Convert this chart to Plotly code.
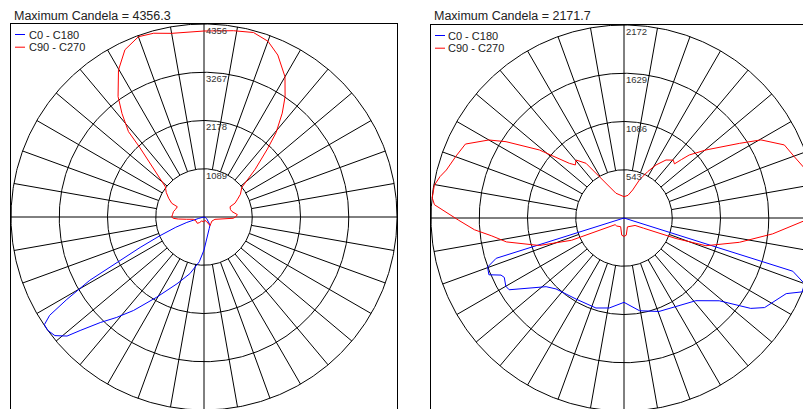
import numpy as np
import plotly.graph_objects as go

# browser page has an 8px body margin; the figure is placed at (8, 8)
PAGE_OFF = 8
W, H = 811 - PAGE_OFF, 409 - PAGE_OFF

# ---------------- data ----------------
titles = ["Maximum Candela = 4356.3", "Maximum Candela = 2171.7"]
series_names = ["C0 - C180", "C90 - C270"]
series_colors = ["#0000ff", "#ff0000"]

rings_1 = [1089, 2178, 3267, 4356]
rings_2 = [543, 1086, 1629, 2172]

# Chart 1  (angles in degrees from nadir, candela)
c1_c0_ang = [0, 5, 13, 25, 37, 42, 50, 60, 75, 80, 90]
c1_c0_cd = [745, 564, 418, 282, 226, 144, 102, 68, 23, 0, 0]

c1_c180_ang = [0, 6, 14, 22, 30.5, 37, 41, 44.5, 47.5, 49, 51.5, 54, 56, 57.5, 59, 61,
               62.5, 64.5, 67, 70, 72.5, 75, 80, 90]
c1_c180_cd = [745, 1016, 1318, 1625, 2099, 2641, 3002, 3340, 3792, 4096, 4300, 4356, 4345,
              4130, 3611, 2948, 2221, 1598, 1083, 677, 406, 135, 23, 0]

c1_c90_ang = [0, 15, 30, 35, 48, 63, 78, 84, 87.5, 90, 94, 101, 106, 111.5, 114, 118, 122,
              128, 133, 137, 139.5, 143, 146, 150, 155.5, 160, 165, 171, 180]
c1_c90_cd = [106, 77, 122, 237, 212, 201, 253, 438, 661, 711, 756, 643, 620, 632, 765, 858,
             970, 1083, 1580, 2099, 2505, 2934, 3273, 3656, 4017, 4221, 4311, 4257, 4198]

c1_c270_ang = [0, 8, 30, 39.5, 47, 63, 78, 82.5, 85.5, 87.5, 90, 95, 100, 105, 111, 113, 118,
               123, 128, 134, 137.3, 138.5, 141.6, 144.5, 149.8, 154.7, 160, 164.7, 170, 180]
c1_c270_cd = [106, 106, 104, 167, 208, 201, 246, 395, 582, 693, 729, 711, 700, 666, 645, 790,
              903, 1016, 1106, 1625, 2144, 2573, 2979, 3340, 3837, 4175, 4330, 4300, 4209, 4198]

# Chart 2
c2_c0_ang = [0, 9.5, 20.5, 28.5, 41, 49, 54.5, 57.5, 65, 67.5, 70, 72.5, 75, 90]
c2_c0_cd = [949, 1058, 1123, 1145, 1233, 1420, 1752, 1876, 2014, 2171.7, 2161, 1992, 0, 0]

c2_c180_ang = [0, 9.3, 17.3, 30.6, 43.8, 48.6, 58, 60, 63.6, 65.1, 67.2, 70.2, 72.5, 75, 90]
c2_c180_cd = [949, 1026, 1061, 1060, 1106, 1169, 1524, 1536, 1504, 1526, 1649, 1632, 1508, 0, 0]

c2_c90_ang = [0, 7.5, 21, 44, 56, 62.5, 68.5, 71.3, 78.1, 83.9, 90, 94, 98, 102.5, 104.8,
              109.8, 114.5, 119.7, 122.9, 129.7, 134, 135.5, 137, 139.6, 144.1, 148.9, 153,
              158, 162.8, 170, 180]
c2_c90_cd = [208, 195, 107, 125, 150, 248, 630, 973, 1327, 1682, 2104, 2161, 2165, 2155, 2118,
             2037, 1983, 1774, 1546, 1199, 1021, 922, 833, 855, 806, 697, 585, 461, 330, 259, 240]

c2_c270_ang = [0, 7.5, 21, 42, 53, 61, 67, 72, 78.5, 82.3, 85.5, 89.3, 92, 94, 96, 99.8,
               102.7, 105.1, 110.3, 115, 120, 122.9, 128.8, 135, 137.5, 140.4, 145.2, 148,
               152.6, 162, 180]
c2_c270_cd = [208, 195, 105, 122, 125, 248, 641, 1002, 1350, 1502, 1688, 1865, 2016, 2138,
              2170, 2166, 2122, 2071, 2014, 1969, 1756, 1581, 1222, 870, 810, 847, 750, 593,
              439, 293, 240]

# ---------------- layout geometry (page pixels) ----------------
R_PX = 193
panels = [
    dict(left=11, top=24, right=397, rings=rings_1, title=titles[0],
         blue=(c1_c0_ang, c1_c0_cd, c1_c180_ang, c1_c180_cd),
         red=(c1_c90_ang, c1_c90_cd, c1_c270_ang, c1_c270_cd)),
    dict(left=431, top=25, right=811, rings=rings_2, title=titles[1],
         blue=(c2_c0_ang, c2_c0_cd, c2_c180_ang, c2_c180_cd),
         red=(c2_c90_ang, c2_c90_cd, c2_c270_ang, c2_c270_cd)),
]


def px_x(px):
    return (px - PAGE_OFF) / W


def px_y(py):
    return 1 - (py - PAGE_OFF) / H


def curve(r_ang, r_cd, l_ang, l_cd):
    ra = np.radians(np.array(r_ang, float))
    rc = np.array(r_cd, float)
    la = np.radians(np.array(l_ang, float))[::-1]
    lc = np.array(l_cd, float)[::-1]
    x = np.concatenate([rc * np.sin(ra), -lc * np.sin(la)])
    y = np.concatenate([-rc * np.cos(ra), -lc * np.cos(la)])
    return x, y


FONT = "Liberation Sans, Arial, sans-serif"
fig = go.Figure()
annotations = []
shapes = []
common = dict(showgrid=False, zeroline=False, showticklabels=False, ticks="",
              fixedrange=True, linecolor="#000000", linewidth=1)

for i, p in enumerate(panels):
    xa = "x" if i == 0 else "x2"
    ya = "y" if i == 0 else "y2"
    R = p["rings"][-1]
    k = R / R_PX  # candela per pixel

    # rings
    t = np.linspace(0, 2 * np.pi, 721)
    gx, gy = [], []
    for rv in p["rings"]:
        gx += list(rv * np.cos(t)) + [None]
        gy += list(rv * np.sin(t)) + [None]
    # radial lines every 10 deg (not on the axes)
    r0, r1 = p["rings"][0], p["rings"][-1]
    for a in range(10, 360, 10):
        if a % 90 == 0:
            continue
        ar = np.radians(a)
        gx += [r0 * np.sin(ar), r1 * np.sin(ar), None]
        gy += [r0 * np.cos(ar), r1 * np.cos(ar), None]
    # cross axes
    big = 2 * R
    gx += [-big, big, None, 0, 0, None]
    gy += [0, 0, None, -big, big, None]
    fig.add_trace(go.Scatter(x=gx, y=gy, mode="lines", xaxis=xa, yaxis=ya,
                             line=dict(color="#000000", width=1), hoverinfo="skip",
                             showlegend=False))

    bx, by = curve(*p["blue"])
    fig.add_trace(go.Scatter(x=bx, y=by, mode="lines", xaxis=xa, yaxis=ya,
                             line=dict(color=series_colors[0], width=1), name=series_names[0],
                             hoverinfo="skip", showlegend=False))
    rx, ry = curve(*p["red"])
    fig.add_trace(go.Scatter(x=rx, y=ry, mode="lines", xaxis=xa, yaxis=ya,
                             line=dict(color=series_colors[1], width=1), name=series_names[1],
                             hoverinfo="skip", showlegend=False))

    # ring labels
    for rv in p["rings"]:
        annotations.append(dict(x=0, y=rv, xref=xa, yref=ya, text=str(rv), showarrow=False,
                                xanchor="left", yanchor="top", xshift=0, yshift=1,
                                font=dict(size=9.5, color="#333333", family=FONT)))

    # axes ranges in data units matched to pixels
    left, top, right = p["left"], p["top"], p["right"]
    width_px = right - left
    xr = [-R, -R + width_px * k]
    yr = [R - (409 - top) * k, R]
    xd = [px_x(left), min(1.0, px_x(right))]
    yd = [0, px_y(top)]
    xaxis = dict(domain=xd, range=xr, side="top", showline=True, mirror=False,
                 anchor=ya, **common)
    yaxis = dict(domain=yd, range=yr, showline=True, mirror=(i == 0), anchor=xa, **common)
    if i == 0:
        fig.update_layout(xaxis=xaxis, yaxis=yaxis)
    else:
        fig.update_layout(xaxis2=xaxis, yaxis2=yaxis)

    # title
    annotations.append(dict(x=px_x(left + 1), y=px_y(15.5), xref="paper", yref="paper",
                            text=p["title"], showarrow=False, xanchor="left", yanchor="middle",
                            font=dict(size=12.5, color="#222222", family=FONT)))
    # legend
    for j in range(2):
        ly = top + 10.5 + j * 12.7
        shapes.append(dict(type="line", xref="paper", yref="paper",
                           x0=px_x(left + 4), x1=px_x(left + 14),
                           y0=px_y(ly), y1=px_y(ly),
                           line=dict(color=series_colors[j], width=1)))
        annotations.append(dict(x=px_x(left + 15.5), y=px_y(ly), xref="paper", yref="paper",
                                text=series_names[j], showarrow=False, xanchor="left",
                                yanchor="middle",
                                font=dict(size=11, color="#222222", family=FONT)))

fig.update_layout(width=W, height=H, margin=dict(l=0, r=0, t=0, b=0),
                  paper_bgcolor="white", plot_bgcolor="white",
                  annotations=annotations, shapes=shapes, showlegend=False)

fig.write_html("out.html")
